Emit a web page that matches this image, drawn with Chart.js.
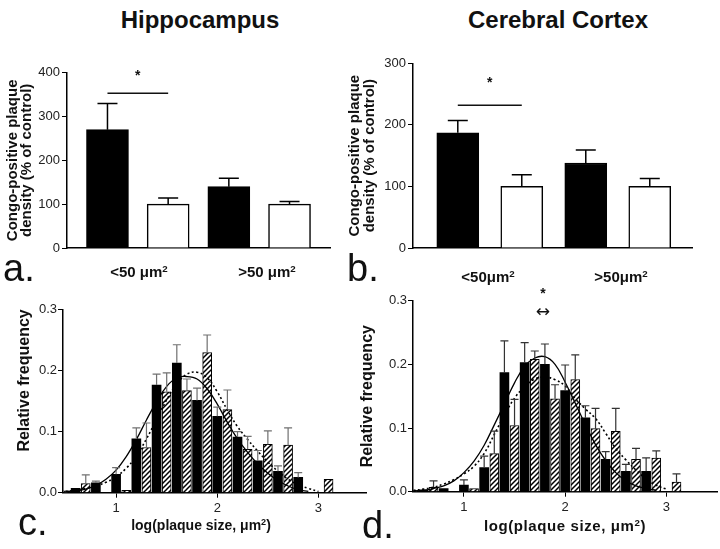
<!DOCTYPE html>
<html>
<head>
<meta charset="utf-8">
<script src="https://cdn.jsdelivr.net/npm/chart.js@4.4.1/dist/chart.umd.min.js"></script>
<style>
  body { margin: 0; background: #fff; }
  #fig { position: relative; width: 720px; height: 549px; overflow: hidden;
         font-family: 'Liberation Sans', Arial, sans-serif; color: #111; }
  #fig canvas { position: absolute; }
  .lbl { position: absolute; white-space: nowrap; line-height: 1; }
  .title { font-weight: bold; font-size: 24px; transform: translateX(-50%); }
  .panel { font-size: 38px; }
  .grp { font-weight: bold; transform: translateX(-50%); }
  .grp sup { font-size: 0.65em; vertical-align: 0.55em; }
</style>
</head>
<body>
<div id="fig">
  <div class="lbl title" style="left:200px; top:8px">Hippocampus</div>
  <div class="lbl title" style="left:558px; top:8px">Cerebral Cortex</div>

  <canvas id="chartA" width="340" height="204" style="left:0; top:56px"></canvas>
  <canvas id="chartB" width="362" height="212" style="left:340px; top:48px"></canvas>
  <canvas id="chartC" width="372" height="216" style="left:0; top:296px"></canvas>
  <canvas id="chartD" width="370" height="226" style="left:350px; top:286px"></canvas>

  <div class="lbl panel" style="left:3px; top:249px">a.</div>
  <div class="lbl panel" style="left:347px; top:249px">b.</div>
  <div class="lbl panel" style="left:18px; top:503px">c.</div>
  <div class="lbl panel" style="left:362px; top:506px">d.</div>

  <div class="lbl grp" style="left:139px; top:264px; font-size:15px">&lt;50 &mu;m<sup>2</sup></div>
  <div class="lbl grp" style="left:267px; top:264px; font-size:15px">&gt;50 &mu;m<sup>2</sup></div>
  <div class="lbl grp" style="left:488px; top:269px; font-size:15px">&lt;50&mu;m<sup>2</sup></div>
  <div class="lbl grp" style="left:621px; top:269px; font-size:15px">&gt;50&mu;m<sup>2</sup></div>

  <div class="lbl grp" style="left:201px; top:518px; font-size:14px">log(plaque size, &mu;m<sup>2</sup>)</div>
  <div class="lbl grp" style="left:565px; top:518px; font-size:15px; letter-spacing:0.6px">log(plaque size, &mu;m<sup>2</sup>)</div>
</div>

<script>
'use strict';

// ---- panels a / b : plaque density, % of control ----
let groupPos = [1, 2, 3, 4];
let groupColors = ['#000', '#fff', '#000', '#fff'];
let hippoDensity = [270, 100, 140, 100];
let hippoSem = [60, 14, 19, 6];
let cortexDensity = [187, 100, 138, 100];
let cortexSem = [20, 19, 21, 13];
let densityTitle = ['Congo-positive plaque', 'density (% of control)'];

// ---- panels c / d : size histograms ----
let blackX = [0.6, 0.8, 1.0, 1.2, 1.4, 1.6, 1.8, 2.0, 2.2, 2.4, 2.6, 2.8];
let hippoBlack = [0.007, 0.016, 0.030, 0.088, 0.176, 0.212, 0.151, 0.125, 0.091, 0.052, 0.035, 0.025];
let hippoBlackSem = [0, 0.003, 0.011, 0.018, 0.018, 0.030, 0.020, 0.015, 0.009, 0.017, 0.009, 0.008];
let hippoHatchX = [0.5, 0.7, 1.1, 1.3, 1.5, 1.7, 1.9, 2.1, 2.3, 2.5, 2.7, 3.1];
let hippoHatch = [0.003, 0.015, 0.004, 0.074, 0.165, 0.167, 0.229, 0.136, 0.071, 0.079, 0.078, 0.022];
let hippoHatchSem = [0, 0.014, 0, 0.040, 0.031, 0.019, 0.029, 0.032, 0.021, 0.022, 0.028, 0];

let cortexBlack = [0.003, 0.005, 0.0105, 0.038, 0.187, 0.203, 0.200, 0.159, 0.116, 0.051, 0.032, 0.032];
let cortexBlackSem = [0, 0, 0.008, 0.018, 0.050, 0.031, 0.032, 0.040, 0.019, 0.012, 0.011, 0.021];
let cortexHatchX = [0.5, 0.7, 1.1, 1.3, 1.5, 1.7, 1.9, 2.1, 2.3, 2.5, 2.7, 2.9, 3.1];
let cortexHatch = [0.002, 0.007, 0.005, 0.060, 0.104, 0.208, 0.146, 0.176, 0.099, 0.095, 0.051, 0.053, 0.015];
let cortexHatchSem = [0, 0.010, 0, 0.035, 0.041, 0.013, 0.022, 0.039, 0.032, 0.036, 0.017, 0.011, 0.013];

// fitted curves
let curveX = [0.5, 0.6, 0.7, 0.8, 0.9, 1.0, 1.1, 1.2, 1.3, 1.4, 1.5, 1.6, 1.7, 1.8, 1.9,
              2.0, 2.1, 2.2, 2.3, 2.4, 2.5, 2.6, 2.7, 2.8, 2.9, 3.0];
let hippoSolid = [0.002, 0.003, 0.006, 0.012, 0.022, 0.037, 0.059, 0.087, 0.119, 0.149, 0.174, 0.188, 0.190,
                  0.186, 0.170, 0.145, 0.115, 0.088, 0.066, 0.047, 0.032, 0.020, 0.011, 0.005, 0.002];
let hippoDotted = [0.002, 0.004, 0.007, 0.011, 0.017, 0.026, 0.040, 0.060, 0.088, 0.120, 0.152, 0.178, 0.194,
                   0.197, 0.188, 0.165, 0.135, 0.108, 0.087, 0.068, 0.050, 0.035, 0.022, 0.013, 0.007, 0.002];
let cortexSolid = [0.001, 0.002, 0.005, 0.009, 0.017, 0.030, 0.048, 0.073, 0.105, 0.138, 0.171, 0.197, 0.210,
                   0.212, 0.200, 0.172, 0.139, 0.105, 0.074, 0.049, 0.030, 0.017, 0.009, 0.005, 0.002];
let cortexDotted = [0.002, 0.004, 0.007, 0.012, 0.019, 0.028, 0.040, 0.060, 0.090, 0.120, 0.147, 0.165, 0.177,
                    0.180, 0.176, 0.166, 0.146, 0.130, 0.115, 0.092, 0.068, 0.050, 0.034, 0.020, 0.010, 0.004];

let freqTicks = [0, 0.1, 0.2, 0.3];
let sizeTicks = [1, 2, 3];

Chart.defaults.font.family = "'Liberation Sans', Arial, sans-serif";
Chart.defaults.color = '#111';
Chart.defaults.animation = false;

function toPoints(xs, ys) {
  return ys.map((y, i) => ({x: xs[i], y: y}));
}

function hatchPattern() {
  const c = document.createElement('canvas');
  c.width = 5;
  c.height = 5;
  const g = c.getContext('2d');
  g.fillStyle = '#fff';
  g.fillRect(0, 0, 5, 5);
  g.strokeStyle = '#000';
  g.lineWidth = 1.5;
  g.beginPath();
  g.moveTo(-1, 6); g.lineTo(6, -1);
  g.moveTo(-1, 1); g.lineTo(1, -1);
  g.moveTo(4, 6); g.lineTo(6, 4);
  g.stroke();
  return g.createPattern(c, 'repeat');
}

// one-sided error bars, taken from dataset.sem
const errorBars = {
  id: 'errorBars',
  afterDatasetsDraw(chart, args, opts) {
    const ctx = chart.ctx;
    const yScale = chart.scales.y;
    chart.data.datasets.forEach((ds, di) => {
      if (!ds.sem) return;
      const meta = chart.getDatasetMeta(di);
      ctx.save();
      ctx.strokeStyle = opts.color;
      ctx.lineWidth = opts.width;
      meta.data.forEach((bar, i) => {
        const s = ds.sem[i];
        if (!s) return;
        const top = yScale.getPixelForValue(ds.data[i].y + s);
        ctx.beginPath();
        ctx.moveTo(bar.x, bar.y);
        ctx.lineTo(bar.x, top);
        ctx.moveTo(bar.x - opts.cap / 2, top);
        ctx.lineTo(bar.x + opts.cap / 2, top);
        ctx.stroke();
      });
      ctx.restore();
    });
  }
};

// significance bar / star / arrow
const marks = {
  id: 'marks',
  afterDraw(chart, args, opts) {
    const ctx = chart.ctx;
    const xs = chart.scales.x;
    const ys = chart.scales.y;
    ctx.save();
    ctx.fillStyle = '#111';
    ctx.strokeStyle = '#111';
    ctx.textAlign = 'center';
    ctx.textBaseline = 'middle';
    if (opts.line) {
      ctx.lineWidth = 1.5;
      const y = ys.getPixelForValue(opts.line.y);
      ctx.beginPath();
      ctx.moveTo(xs.getPixelForValue(opts.line.from), y);
      ctx.lineTo(xs.getPixelForValue(opts.line.to), y);
      ctx.stroke();
    }
    (opts.texts || []).forEach(t => {
      ctx.font = t.font;
      ctx.fillText(t.text, xs.getPixelForValue(t.x), ys.getPixelForValue(t.y));
    });
    ctx.restore();
  }
};

function fixWidth(w) {
  return scale => { scale.width = w; };
}
function fixHeight(h) {
  return scale => { scale.height = h; };
}

function makeDensityChart(canvasid, values, sem, yMax, xMin, xMax, yWidth, pad, titlePad, sig) {
  const ctx = document.getElementById(canvasid);
  return new Chart(ctx, {
    type: 'bar',
    data: {
      datasets: [{
        data: toPoints(groupPos, values),
        sem: sem,
        backgroundColor: groupColors,
        borderColor: '#000',
        borderWidth: 1.5,
        borderSkipped: 'bottom',
        barThickness: 42,
        grouped: false
      }]
    },
    options: {
      responsive: false,
      layout: {padding: pad},
      plugins: {
        legend: {display: false},
        tooltip: {enabled: false},
        errorBars: {color: '#000', width: 1.5, cap: 20},
        marks: sig
      },
      scales: {
        x: {
          type: 'linear',
          min: xMin,
          max: xMax,
          offset: false,
          grid: {display: false, offset: false},
          border: {display: true, color: '#000', width: 1.5},
          ticks: {display: false},
          afterFit: fixHeight(pad.xh)
        },
        y: {
          min: 0,
          max: yMax,
          grid: {drawOnChartArea: false, drawTicks: true, tickLength: 5, color: '#000'},
          border: {display: true, color: '#000', width: 1.5},
          ticks: {stepSize: 100, padding: 2, font: {size: 13}, color: '#222'},
          title: {
            display: true,
            text: densityTitle,
            font: {size: 15, weight: 'bold', lineHeight: 0.95},
            padding: {top: titlePad, bottom: 0},
            color: '#111'
          },
          afterFit: fixWidth(yWidth)
        }
      }
    },
    plugins: [errorBars, marks]
  });
}

function makeHistChart(canvasid, black, blackSem, hatchX, hatch, hatchSem, solid, dotted,
                       xMin, xMax, yWidth, pad, titlePad, titleAlign, errColor, extra) {
  const ctx = document.getElementById(canvasid);
  return new Chart(ctx, {
    type: 'bar',
    data: {
      datasets: [{
        type: 'line',
        data: toPoints(curveX, solid),
        borderColor: '#000',
        borderWidth: 1.3,
        pointRadius: 0,
        tension: 0.4,
        order: 0
      }, {
        type: 'line',
        data: toPoints(curveX, dotted),
        borderColor: '#000',
        borderWidth: 1.6,
        borderDash: [2, 2.5],
        pointRadius: 0,
        tension: 0.4,
        order: 0
      }, {
        data: toPoints(blackX, black),
        sem: blackSem,
        backgroundColor: '#000',
        borderWidth: 0,
        barThickness: 9,
        grouped: false,
        order: 1
      }, {
        data: toPoints(hatchX, hatch),
        sem: hatchSem,
        backgroundColor: hatchPattern(),
        borderColor: '#000',
        borderWidth: 1,
        borderSkipped: 'bottom',
        barThickness: 9,
        grouped: false,
        order: 1
      }]
    },
    options: {
      responsive: false,
      layout: {padding: pad},
      plugins: {
        legend: {display: false},
        tooltip: {enabled: false},
        errorBars: {color: errColor, width: 1.2, cap: 8},
        marks: extra
      },
      scales: {
        x: {
          type: 'linear',
          min: xMin,
          max: xMax,
          offset: false,
          afterBuildTicks: scale => { scale.ticks = sizeTicks.map(v => ({value: v})); },
          grid: {drawOnChartArea: false, drawTicks: true, tickLength: 5, color: '#000', offset: false},
          border: {display: true, color: '#000', width: 1.5},
          ticks: {padding: 3, font: {size: 13}, color: '#222', maxRotation: 0},
          afterFit: fixHeight(pad.xh)
        },
        y: {
          min: 0,
          max: 0.3,
          afterBuildTicks: scale => { scale.ticks = freqTicks.map(v => ({value: v})); },
          grid: {drawOnChartArea: false, drawTicks: true, tickLength: 5, color: '#000'},
          border: {display: true, color: '#000', width: 1.5},
          ticks: {padding: 1, font: {size: 13}, color: '#222', callback: v => v.toFixed(1)},
          title: {
            display: true,
            text: 'Relative frequency',
            align: titleAlign,
            font: {size: 16, weight: 'bold', lineHeight: 1.2},
            padding: {top: titlePad, bottom: 0},
            color: '#111'
          },
          afterFit: fixWidth(yWidth)
        }
      }
    },
    plugins: [errorBars, marks]
  });
}

makeDensityChart('chartA', hippoDensity, hippoSem, 400, 0.333, 4.667, 67,
  {left: 0, top: 16.7, right: 10, bottom: 0, xh: 12}, 5.4,
  {line: {from: 1, to: 2, y: 353}, texts: [{text: '*', x: 1.5, y: 392, font: 'bold 14px Liberation Sans'}]});

makeDensityChart('chartB', cortexDensity, cortexSem, 300, 0.30, 4.66, 73,
  {left: 0, top: 15.3, right: 10, bottom: 0, xh: 12}, 8,
  {line: {from: 1, to: 2, y: 232}, texts: [{text: '*', x: 1.5, y: 267, font: 'bold 14px Liberation Sans'}]});

makeHistChart('chartC', hippoBlack, hippoBlackSem, hippoHatchX, hippoHatch, hippoHatchSem,
  hippoSolid, hippoDotted, 0.475, 3.47, 63,
  {left: 0, top: 13.3, right: 6, bottom: 0, xh: 19.3}, 15.4, 'end', '#707070', {});

makeHistChart('chartD', cortexBlack, cortexBlackSem, cortexHatchX, cortexHatch, cortexHatchSem,
  cortexSolid, cortexDotted, 0.497, 3.5, 63,
  {left: 0, top: 14.7, right: 3, bottom: 0, xh: 20.3}, 8.4, 'center', '#333',
  {texts: [{text: '*', x: 1.78, y: 0.31, font: 'bold 14px Liberation Sans'},
           {text: '\u2194', x: 1.78, y: 0.281, font: '17px DejaVu Sans'}]});
</script>
</body>
</html>
